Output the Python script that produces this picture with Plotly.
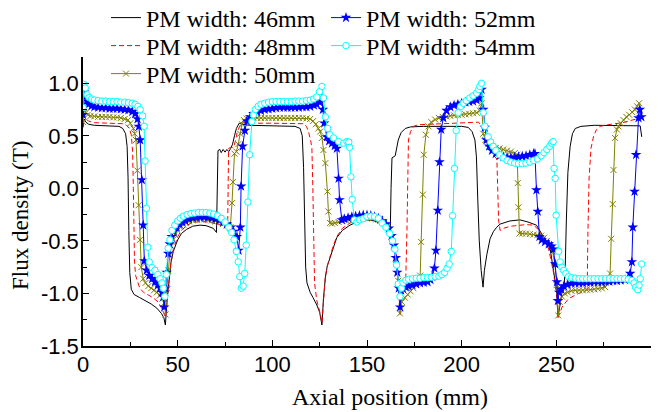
import plotly.graph_objects as go

# ---------------- data ----------------
names = ["PM width: 46mm", "PM width: 48mm", "PM width: 50mm",
         "PM width: 52mm", "PM width: 54mm"]

pm46 = [(0,0.58),(0.6,0.66),(1.5,0.63),(3,0.61),(6,0.60),(10,0.595),(15,0.595),(19,0.59),(21,0.57),(22.5,0.52),
        (23.3,0.40),(23.8,0.10),(24.2,-0.40),(24.7,-0.80),(25.5,-0.96),(27,-1.01),(30,-1.04),(33,-1.07),(36,-1.10),
        (39,-1.14),(41.4,-1.19),(42.7,-1.23),(43.5,-1.30),(44.5,-1.05),(45.5,-0.86),(46.5,-0.70),(47.7,-0.60),
        (50,-0.49),(52,-0.43),(54.7,-0.39),(58,-0.36),(61.8,-0.35),(65,-0.355),(68.8,-0.38),(70.5,-0.42),
        (70.9,-0.05),(71.3,0.36),(72.3,0.37),(73,0.34),(74,0.37),(75,0.345),(76,0.37),(77,0.35),(78,0.38),
        (79,0.42),(80,0.50),(81,0.57),(82.5,0.62),(84,0.61),(88,0.60),(95,0.595),(105,0.595),(112,0.59),
        (114.7,0.57),(115.8,0.50),(116.5,0.20),(117,-0.30),(117.6,-0.75),(118.3,-0.90),(120,-0.99),(121.5,-1.04),
        (123.5,-1.11),(125,-1.18),(126.2,-1.30),(127,-1.05),(128,-0.85),(129,-0.74),(130.6,-0.65),(132.3,-0.55),
        (134,-0.47),(137,-0.40),(141,-0.35),(146,-0.31),(150,-0.30),(154,-0.31),(158,-0.34),(161,-0.38),
        (162.3,-0.40),(162.7,0.0),(163.2,0.29),(164.9,0.31),(166.5,0.46),(168,0.53),(170.2,0.57),(173,0.585),
        (180,0.59),(190,0.59),(200,0.59),(203.5,0.58),(205.5,0.54),(207,0.46),(207.8,0.30),(208.5,-0.10),
        (209.3,-0.50),(210.3,-0.78),(211.3,-0.94),(212,-0.78),(213.3,-0.63),(215,-0.48),(216.8,-0.41),
        (218.5,-0.37),(220.3,-0.34),(225.5,-0.31),(230.8,-0.30),(235,-0.32),(239.5,-0.35),(243.2,-0.46),
        (246.6,-0.56),(248.5,-0.78),(250.1,-0.98),(250.9,-1.225),(251.8,-1.10),(252.9,-1.00),(254,-0.96),
        (254.7,-0.75),(255.3,-0.30),(256.1,0.15),(257.3,0.40),(258.5,0.52),(260,0.57),(263,0.59),(270,0.60),
        (280,0.60),(290,0.60),(294.3,0.595),(295.1,0.49)]

pm48 = [(0,0.60),(0.6,0.70),(1.5,0.66),(3,0.64),(6,0.625),(12,0.62),(18,0.62),(21,0.615),(23,0.60),(24.5,0.57),
        (25.5,0.51),(26.2,0.35),(26.6,0.0),(26.9,-0.40),(27.2,-0.70),(27.8,-0.83),(29,-0.91),(30,-0.95),(32,-0.99),
        (34.3,-1.01),(37,-1.04),(39.6,-1.08),(42.2,-1.16),(43.5,-1.23),(44.5,-1.02),(45.5,-0.84),(46.5,-0.68),
        (47.7,-0.58),(50,-0.46),(52,-0.40),(55,-0.35),(58,-0.325),(62,-0.315),(66,-0.32),(70,-0.335),(73,-0.35),
        (75.5,-0.36),(76.4,-0.37),(76.7,0.0),(76.9,0.38),(78,0.39),(79.5,0.39),(80.5,0.45),(81.5,0.54),(83,0.60),
        (84.8,0.63),(87,0.625),(92,0.62),(100,0.62),(110,0.62),(116.5,0.615),(118,0.59),(119.1,0.54),(120.3,0.45),
        (120.9,0.38),(121.4,0.0),(121.8,-0.50),(122.3,-0.90),(123.5,-1.07),(125.3,-1.19),(126.2,-1.28),(127,-1.05),
        (128,-0.84),(129,-0.74),(130.6,-0.64),(132.3,-0.54),(134,-0.46),(137,-0.38),(141,-0.33),(146,-0.30),
        (150,-0.29),(154,-0.30),(158,-0.33),(161,-0.38),(163,-0.48),(164.8,-0.62),(166,-0.82),(167.5,-1.20),
        (168.5,-1.02),(169.5,-0.92),(170.5,-0.84),(171.1,-0.40),(171.5,0.10),(171.9,0.46),(173,0.54),(174.5,0.59),
        (177,0.605),(185,0.61),(195,0.615),(205,0.625),(208.9,0.63),(210.3,0.60),(211.5,0.52),(213,0.44),
        (215,0.37),(217,0.31),(218.6,0.28),(219,-0.05),(219.5,-0.30),(220.3,-0.40),(222,-0.38),(226,-0.36),
        (230,-0.35),(234,-0.345),(238,-0.35),(241,-0.40),(243.5,-0.48),(246,-0.58),(248.3,-0.78),(250.1,-1.00),
        (250.9,-1.23),(252,-1.17),(253,-1.13),(256.4,-1.05),(261.7,-1.00),(265.2,-0.98),(266.3,-0.96),
        (266.7,-0.40),(267.3,0.10),(268.3,0.38),(269.6,0.49),(271.2,0.56),(273.1,0.59),(277,0.605),(281,0.615),
        (285,0.625),(289,0.645),(292.3,0.66),(293.5,0.69)]

pm50 = [(0,0.63),(0.7,0.76),(1.5,0.72),(2.5,0.70),(4,0.69),(6,0.685),(8,0.68),(10,0.68),(12,0.68),(14,0.68),
        (16,0.675),(18,0.675),(20,0.67),(22,0.66),(23.8,0.65),(25,0.62),(26.6,0.57),(27.3,0.52),(28.0,0.46),
        (28.7,0.17),(29.4,-0.16),(30.1,-0.49),(30.8,-0.75),(31.8,-0.86),(33,-0.90),(34.5,-0.93),(36,-0.95),
        (37.5,-0.97),(39,-0.99),(40.5,-1.02),(42,-1.05),(43,-1.09),(43.6,-1.20),(44.3,-0.95),(45,-0.78),
        (45.8,-0.64),(46.6,-0.55),(47.5,-0.49),(48.5,-0.44),(50,-0.40),(51.5,-0.37),(53,-0.345),(54.5,-0.33),
        (56,-0.315),(58,-0.305),(60,-0.30),(62,-0.295),(64,-0.295),(66,-0.30),(68,-0.305),(70,-0.315),
        (72,-0.325),(74,-0.34),(76,-0.355),(77.8,-0.37),(78.7,-0.14),(79.2,0.06),(80.0,0.33),(81,0.35),
        (82,0.42),(83,0.52),(84,0.61),(85,0.65),(86.5,0.665),(88,0.67),(90,0.67),(92,0.67),(94,0.67),(96,0.67),
        (98,0.67),(100,0.67),(102,0.67),(104,0.67),(106,0.67),(108,0.67),(110,0.67),(112,0.67),(114,0.67),
        (116,0.67),(118,0.665),(120,0.66),(121.5,0.64),(123,0.61),(124.3,0.57),(125.3,0.54),(126.2,0.48),
        (127,0.365),(128,0.24),(129.1,-0.03),(129.6,-0.22),(130.5,-0.33),(131.5,-0.335),(133,-0.33),(135,-0.32),
        (137,-0.31),(139,-0.30),(141,-0.295),(143,-0.29),(145,-0.285),(147,-0.28),(149,-0.28),(151,-0.28),
        (153,-0.285),(155,-0.295),(157,-0.31),(159,-0.33),(160.5,-0.36),(162,-0.40),(163.3,-0.47),(164.5,-0.56),
        (165.5,-0.68),(166.5,-0.88),(167.4,-1.19),(168.4,-1.08),(170,-1.04),(171.5,-1.01),(173,-0.98),
        (174.5,-0.95),(176,-0.92),(177.3,-0.88),(178.1,-0.83),(178.6,-0.51),(179.5,-0.06),(180,0.32),(181.1,0.51),
        (182.5,0.59),(184,0.63),(186,0.655),(188,0.67),(190,0.68),(192,0.685),(194,0.69),(196,0.695),(198,0.70),
        (200,0.70),(202,0.705),(204,0.71),(206,0.715),(208,0.72),(209.6,0.74),(210.5,0.81),(211.4,0.52),
        (212.5,0.46),(214,0.42),(216,0.40),(218,0.385),(220,0.38),(222,0.37),(224,0.36),(226,0.35),(228,0.335),
        (229.3,0.32),(229.6,0.05),(230,-0.18),(230.5,-0.43),(232,-0.43),(234,-0.43),(236,-0.435),(238,-0.44),
        (240,-0.445),(242,-0.45),(243.5,-0.47),(245,-0.50),(246.5,-0.54),(248,-0.60),(249.2,-0.72),(250.2,-0.92),
        (251,-1.21),(251.8,-1.08),(253,-1.03),(254.5,-1.00),(256,-0.99),(258,-0.975),(260,-0.97),(262,-0.97),
        (264,-0.97),(266,-0.965),(268,-0.965),(270,-0.96),(272,-0.955),(274,-0.95),(275.8,-0.94),(277.3,-0.89),
        (278.4,-0.81),(279,-0.48),(279.8,-0.15),(280.2,0.175),(281,0.48),(282,0.56),(282.8,0.59),(284,0.62),
        (285.5,0.65),(287,0.68),(288.5,0.70),(290,0.725),(291.5,0.75),(292.7,0.78),(293.7,0.81)]

pm52 = [(0,0.70),(0.5,0.92),(1.2,0.87),(2,0.83),(3,0.80),(4.5,0.785),(6,0.775),(8,0.77),(10,0.765),(12,0.765),
        (14,0.76),(16,0.76),(18,0.76),(20,0.755),(22,0.75),(24,0.745),(26,0.73),(27.5,0.71),(28.8,0.66),
        (29.5,0.59),(30.2,0.46),(31.1,0.08),(31.8,-0.35),(32.4,-0.69),(33.6,-0.78),(35,-0.83),(36.5,-0.86),
        (38,-0.89),(39.5,-0.92),(40.7,-0.95),(41.7,-0.99),(42.4,-1.03),(42.9,-1.13),(43.6,-0.95),(44.2,-0.80),
        (45,-0.62),(45.8,-0.53),(46.8,-0.46),(48,-0.41),(49.5,-0.37),(51,-0.34),(52.5,-0.32),(54,-0.305),
        (56,-0.29),(58,-0.28),(60,-0.275),(62,-0.27),(64,-0.27),(66,-0.275),(68,-0.28),(70,-0.29),(72,-0.30),
        (74,-0.32),(76,-0.34),(78,-0.37),(79.5,-0.41),(81.3,-0.46),(82.2,-0.59),(83.1,-0.37),(83.5,0.02),
        (84.3,0.40),(85.5,0.55),(86.6,0.64),(88.3,0.68),(90,0.71),(92,0.73),(94,0.74),(96,0.75),(98,0.755),
        (100,0.76),(102,0.765),(104,0.77),(106,0.77),(108,0.77),(110,0.77),(112,0.77),(114,0.77),(116,0.775),
        (118,0.775),(120,0.78),(122,0.79),(123.5,0.80),(125,0.82),(126.2,0.86),(126.7,0.75),(127.4,0.62),
        (128.8,0.49),(130,0.45),(131.5,0.43),(133,0.405),(134.1,0.38),(135,0.095),(135.5,-0.11),(136.7,-0.30),
        (138,-0.29),(140,-0.28),(142,-0.27),(144,-0.265),(146,-0.26),(148,-0.255),(150,-0.255),(152,-0.26),
        (154,-0.27),(156,-0.285),(158,-0.31),(160,-0.34),(161.5,-0.38),(163,-0.45),(164.2,-0.54),(165.2,-0.66),
        (166,-0.80),(166.8,-0.95),(167.5,-1.13),(168,-0.97),(169,-0.955),(170.5,-0.94),(172,-0.93),(174,-0.92),
        (176,-0.91),(178,-0.90),(180,-0.895),(182,-0.89),(183.5,-0.87),(184.5,-0.84),(185.6,-0.76),(186.4,-0.59),
        (187.4,-0.21),(188.3,0.25),(189.2,0.56),(190.3,0.67),(192,0.74),(194,0.775),(196,0.79),(198,0.80),
        (200,0.81),(202,0.82),(204,0.825),(206,0.83),(207.9,0.84),(209.3,0.86),(210.5,0.94),(211.4,0.75),
        (212.2,0.58),(213.1,0.46),(214.5,0.40),(216,0.36),(218,0.33),(220,0.31),(222,0.30),(224,0.295),
        (226,0.295),(228,0.295),(230,0.30),(232,0.305),(234,0.31),(236,0.32),(238,0.33),(238.7,0.33),
        (239.5,-0.016),(240.2,-0.22),(241.1,-0.46),(242.3,-0.49),(244,-0.51),(246,-0.53),(247.5,-0.55),
        (248.5,-0.58),(249.4,-0.72),(250.3,-0.89),(250.8,-1.07),(251.5,-0.99),(252.5,-0.96),(254,-0.93),
        (256,-0.915),(258,-0.905),(260,-0.90),(262,-0.90),(264,-0.90),(266,-0.895),(268,-0.895),(270,-0.89),
        (272,-0.89),(274,-0.89),(276,-0.885),(278,-0.885),(280,-0.88),(282,-0.88),(284,-0.875),(286.3,-0.87),
        (288,-0.85),(289,-0.81),(289.9,-0.70),(290.4,-0.37),(291.3,-0.03),(292.1,0.32),(293.4,0.67),
        (294.1,0.75),(294.9,0.68)]

pm54 = [(0,0.77),(0.4,0.99),(1.2,0.955),(2.2,0.89),(3.2,0.865),(4.5,0.85),(6,0.84),(8,0.835),(10,0.83),
        (12,0.83),(14,0.825),(16,0.825),(18,0.825),(20,0.82),(22,0.82),(24,0.815),(26,0.81),(27.5,0.80),
        (29,0.78),(30.2,0.75),(31.5,0.69),(32.3,0.59),(32.8,0.26),(33.5,-0.19),(34.2,-0.56),(35,-0.70),
        (36.5,-0.755),(38,-0.78),(39.5,-0.82),(40.7,-0.86),(41.7,-0.90),(42.4,-0.95),(43.2,-1.03),(44,-0.82),
        (45,-0.57),(45.9,-0.49),(47,-0.40),(48.5,-0.35),(50,-0.31),(51.5,-0.285),(53,-0.265),(55,-0.25),
        (57,-0.24),(59,-0.235),(61,-0.23),(63,-0.23),(65,-0.23),(67,-0.235),(69,-0.245),(71,-0.26),(73,-0.285),
        (75,-0.32),(77,-0.37),(78.5,-0.42),(79.8,-0.49),(81,-0.60),(82,-0.70),(82.8,-0.84),(83.6,-0.95),
        (84.6,-0.93),(85.4,-0.81),(86.2,-0.54),(87.1,-0.13),(88,0.32),(89.2,0.636),(90,0.70),(91,0.75),
        (92.5,0.78),(94,0.80),(96,0.81),(98,0.82),(100,0.825),(102,0.825),(104,0.825),(106,0.825),(108,0.825),
        (110,0.825),(112,0.83),(114,0.83),(116,0.83),(118,0.835),(120,0.84),(121.8,0.85),(123.5,0.87),
        (124.9,0.92),(126.2,0.97),(127,0.86),(128,0.68),(129.2,0.57),(130.4,0.51),(132.3,0.48),(135,0.445),
        (137.6,0.43),(139.4,0.445),(140.4,0.44),(140.8,0.39),(141.5,0.11),(142.2,-0.105),(143.3,-0.30),
        (144.7,-0.32),(146,-0.30),(148,-0.29),(150,-0.27),(152,-0.265),(154,-0.27),(156,-0.285),(158,-0.33),
        (160,-0.37),(162,-0.43),(163.5,-0.50),(164.7,-0.58),(165.6,-0.73),(166.5,-0.91),(167.4,-1.03),
        (168.2,-0.95),(169,-0.90),(170.5,-0.875),(172,-0.865),(174,-0.86),(176,-0.855),(178,-0.855),(180,-0.85),
        (182,-0.85),(184,-0.845),(186,-0.84),(188,-0.835),(189.5,-0.82),(191,-0.80),(192.3,-0.76),(193.4,-0.72),
        (194.5,-0.60),(195.2,-0.26),(196.2,0.19),(197.1,0.55),(198.2,0.72),(199.5,0.78),(200.8,0.81),
        (202.5,0.835),(204.3,0.86),(206,0.88),(207.9,0.906),(209,0.94),(209.6,0.97),(210.5,1.0),(211.4,0.72),
        (212.2,0.59),(214,0.49),(215.3,0.44),(216.6,0.40),(218,0.36),(220,0.32),(221.9,0.29),(224,0.265),
        (226,0.25),(228,0.24),(230,0.235),(232,0.235),(234,0.24),(236,0.25),(238,0.265),(240,0.28),(242,0.31),
        (243.5,0.34),(245,0.37),(246.5,0.40),(247.5,0.43),(248.3,0.445),(248.8,0.19),(249.4,0.095),
        (249.9,-0.255),(251.2,-0.60),(252,-0.70),(253,-0.75),(253.8,-0.78),(255,-0.81),(256.4,-0.84),(258,-0.85),
        (260,-0.855),(262,-0.86),(264,-0.86),(266,-0.86),(268,-0.86),(270,-0.86),(272,-0.86),(274,-0.86),
        (276,-0.86),(278,-0.86),(280,-0.86),(282,-0.86),(284,-0.86),(286,-0.86),(288,-0.865),(289.9,-0.875),
        (291,-0.90),(291.8,-0.94),(293,-0.965),(293.7,-0.92),(294.3,-0.86),(295.1,-0.72)]

x_ticks = [0, 50, 100, 150, 200, 250, 300]
y_ticks = [-1.5, -1.0, -0.5, 0.0, 0.5, 1.0]
y_tick_text = ["-1.5", "-1.0", "-0.5", "0.0", "0.5", "1.0"]

# ---------------- figure ----------------
SERIF = "Liberation Serif, Times New Roman, serif"
SANS = "Liberation Sans, Arial, sans-serif"

styles = [
    dict(mode="lines", line=dict(color="#000000", width=1), legend="legend"),
    dict(mode="lines", line=dict(color="#FF0000", width=1, dash="5px,3px"), legend="legend2"),
    dict(mode="lines+markers", line=dict(color="#808000", width=1),
         marker=dict(symbol="x-thin-open", size=6, color="#808000", line=dict(width=1, color="#808000")),
         legend="legend3"),
    dict(mode="lines+markers", line=dict(color="#0000FF", width=1),
         marker=dict(symbol="star", size=8, color="#0000FF", line=dict(width=0)), legend="legend"),
    dict(mode="lines+markers", line=dict(color="#00FFFF", width=1),
         marker=dict(symbol="circle", size=6.5, color="#FFFFFF", line=dict(width=1, color="#00FFFF")),
         legend="legend2"),
]

fig = go.Figure()
for name, pts, st in zip(names, [pm46, pm48, pm50, pm52, pm54], styles):
    xs = [p[0] for p in pts]
    ys = [p[1] for p in pts]
    fig.add_trace(go.Scatter(x=xs, y=ys, name=name, **st))

W, H = 667, 412
L, R, T, B = 83, 16, 57, 66
PW, PH = W - L - R, H - T - B

def px_x(px):
    return (px - L) / PW

def px_y(py):
    return ((H - B) - py) / PH

def leg(row_center):
    return dict(orientation="h", xref="paper", yref="paper",
                x=px_x(106), xanchor="left", y=px_y(row_center), yanchor="middle",
                font=dict(family=SERIF, size=24, color="black"),
                bgcolor="rgba(0,0,0,0)", borderwidth=0,
                entrywidth=175, entrywidthmode="pixels")

fig.update_layout(
    width=W, height=H,
    margin=dict(l=L, r=R, t=T, b=B, pad=0, autoexpand=False),
    paper_bgcolor="white", plot_bgcolor="white",
    legend=leg(18), legend2=leg(46), legend3=leg(74),
    showlegend=True,
    xaxis=dict(range=[0, 300], tickvals=x_ticks, showgrid=False, zeroline=False,
               showline=True, linecolor="black", linewidth=1.5,
               ticks="inside", ticklen=6, tickwidth=1.2, tickcolor="black",
               minor=dict(tickvals=[25, 75, 125, 175, 225, 275], ticks="inside", ticklen=4,
                          tickwidth=1.2, tickcolor="black", showgrid=False),
               tickfont=dict(family=SANS, size=22, color="black"),
               ticklabelstandoff=-2, automargin=False),
    yaxis=dict(range=[-1.5, 1.25], tickvals=y_ticks, ticktext=y_tick_text,
               showgrid=False, zeroline=False,
               showline=True, linecolor="black", linewidth=1.5,
               ticks="inside", ticklen=6, tickwidth=1.2, tickcolor="black",
               minor=dict(tickvals=[-1.25, -0.75, -0.25, 0.25, 0.75], ticks="inside", ticklen=4,
                          tickwidth=1.2, tickcolor="black", showgrid=False),
               tickfont=dict(family=SANS, size=22, color="black"),
               ticklabelstandoff=-2, automargin=False),
    annotations=[
        dict(text="Axial position (mm)", xref="paper", yref="paper",
             x=px_x(390), y=px_y(397),
             xanchor="center", yanchor="middle", showarrow=False,
             font=dict(family=SERIF, size=24, color="black")),
        dict(text="Flux density (T)", xref="paper", yref="paper",
             x=px_x(21), y=px_y(215),
             xanchor="center", yanchor="middle", showarrow=False, textangle=-90,
             font=dict(family=SERIF, size=23, color="black")),
    ],
)

fig.write_html("out.html")
